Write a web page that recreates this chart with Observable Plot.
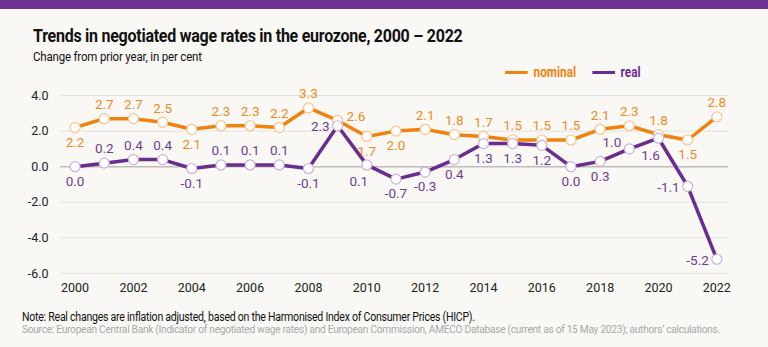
<!DOCTYPE html>
<html>
<head>
<meta charset="utf-8">
<script src="https://cdn.jsdelivr.net/npm/d3@7"></script>
<script src="https://cdn.jsdelivr.net/npm/@observablehq/plot@0.6"></script>
<style>
  html, body { margin: 0; padding: 0; }
  body { width: 768px; height: 347px; background: #f9f8f5; position: relative; overflow: hidden;
         font-family: "Roboto", sans-serif; }
  #bar { position: absolute; left: 0; top: 0; width: 768px; height: 9px; background: #6e3391; }
  .sq { transform-origin: 0 50%; }
  #title { position: absolute; left: 33px; top: 25px; font-size: 18px; font-weight: bold; color: #111; white-space: nowrap; letter-spacing: -0.3px; transform: scaleX(0.89); }
  #subtitle { position: absolute; left: 33px; top: 48px; font-size: 13.5px; color: #111; white-space: nowrap; letter-spacing: -0.2px; transform: scaleX(0.85); }
  #legend { position: absolute; left: 505px; top: 64px; font-size: 14px; font-weight: bold; white-space: nowrap; transform: scaleX(0.84); }
  #legend span.sw { display: inline-block; width: 27px; height: 3.5px; vertical-align: middle; margin-right: 7px; position: relative; top: -1px; }
  #legend span.lab { margin-right: 19px; }
  #chart { position: absolute; left: 0; top: 60px; }
  #note { position: absolute; left: 22px; top: 309px; font-size: 12.5px; color: #111; white-space: nowrap; letter-spacing: -0.3px; transform: scaleX(0.845); }
  #source { position: absolute; left: 22px; top: 323px; font-size: 11px; color: #a8a8a8; white-space: nowrap; letter-spacing: -0.3px; transform: scaleX(0.925); }
</style>
</head>
<body>
<div id="bar"></div>
<div id="title" class="sq">Trends in negotiated wage rates in the eurozone, 2000 – 2022</div>
<div id="subtitle" class="sq">Change from prior year, in per cent</div>
<div id="legend" class="sq"></div>
<div id="chart"></div>
<div id="note" class="sq">Note: Real changes are inflation adjusted, based on the Harmonised Index of Consumer Prices (HICP).</div>
<div id="source" class="sq">Source: European Central Bank (Indicator of negotiated wage rates) and European Commission, AMECO Database (current as of 15 May 2023); authors’ calculations.</div>
<script>
const years = [2000,2001,2002,2003,2004,2005,2006,2007,2008,2009,2010,2011,2012,2013,2014,2015,2016,2017,2018,2019,2020,2021,2022];
const nominal = [2.2,2.7,2.7,2.5,2.1,2.3,2.3,2.2,3.3,2.6,1.7,2.0,2.1,1.8,1.7,1.5,1.5,1.5,2.1,2.3,1.8,1.5,2.8];
const real = [0.0,0.2,0.4,0.4,-0.1,0.1,0.1,0.1,-0.1,2.3,0.1,-0.7,-0.3,0.4,1.3,1.3,1.2,0.0,0.3,1.0,1.6,-1.1,-5.2];
// label placement relative to each point
const nominalPlace = ["bottom","top","top","top","bottom","top","top","top","top","right","bottom","bottom","top","top","top","top","top","top","top","top","top","bottom","top"];
const realPlace = ["bottom","top","top","top","bottom","top","top","top","bottom","left","bottom-left","bottom","bottom","bottom","bottom","bottom","bottom","bottom","bottom","top-left","bottom-left","left","left"];
const yTicks = [4, 2, 0, -2, -4, -6];
const xTicks = [2000,2002,2004,2006,2008,2010,2012,2014,2016,2018,2020,2022];
const seriesNames = ["nominal", "real"];
const colors = {nominal: "#f0820f", real: "#6a2c8e"};
const dotStroke = {nominal: "#f7c48c", real: "#c7b2d8"};
const textColors = {nominal: "#f08a1c", real: "#6e3d91"};

const data = [];
years.forEach((yr, i) => {
  data.push({year: yr, value: nominal[i], series: "nominal", place: nominalPlace[i]});
  data.push({year: yr, value: real[i], series: "real", place: realPlace[i]});
});

const lg = document.getElementById("legend");
seriesNames.forEach(s => {
  lg.insertAdjacentHTML("beforeend",
    `<span class="sw" style="background:${colors[s]}"></span><span class="lab" style="color:${colors[s]}">${s}</span>`);
});

const font = '"Roboto", sans-serif';
const offsets = {
  "top": {dx: 0, dy: -14, textAnchor: "middle"},
  "bottom": {dx: 0, dy: 15, textAnchor: "middle"},
  "left": {dx: -8, dy: 1, textAnchor: "end"},
  "right": {dx: 9, dy: -4, textAnchor: "start"},
  "top-left": {dx: -8, dy: -6, textAnchor: "end"},
  "bottom-left": {dx: -8, dy: 17, textAnchor: "middle"}
};
const textMarks = [];
for (const s of seriesNames) {
  for (const [p, o] of Object.entries(offsets)) {
    textMarks.push(Plot.text(data.filter(d => d.series === s && d.place === p), {
      x: "year", y: "value", text: d => d.value.toFixed(1),
      dx: o.dx, dy: o.dy, textAnchor: o.textAnchor,
      fill: textColors[s], fontSize: 13.5, fontFamily: font
    }));
  }
}

const chart = Plot.plot({
  width: 768,
  height: 245,
  marginLeft: 60,
  marginRight: 40,
  marginTop: 35,
  marginBottom: 32,
  style: {background: "transparent", fontFamily: font, fontSize: "12.5px", color: "#222"},
  x: {domain: [1999.5, 2022.4], ticks: xTicks, tickFormat: d => String(d), tickSize: 0, tickPadding: 10, label: null},
  y: {domain: [-6, 4], ticks: yTicks, tickFormat: d => d.toFixed(1), tickSize: 0, tickPadding: 12, label: null},
  marks: [
    Plot.ruleY(yTicks.filter(t => t !== 0), {stroke: "#e4e2de", strokeWidth: 1}),
    Plot.ruleY([0], {stroke: "#bdbcba", strokeWidth: 1.6}),
    Plot.line(data.filter(d => d.series === "nominal"), {x: "year", y: "value", stroke: colors.nominal, strokeWidth: 3.5}),
    Plot.line(data.filter(d => d.series === "real"), {x: "year", y: "value", stroke: colors.real, strokeWidth: 3.5}),
    Plot.dot(data.filter(d => d.series === "nominal"), {x: "year", y: "value", r: 5, fill: "white", stroke: dotStroke.nominal, strokeWidth: 1.2}),
    Plot.dot(data.filter(d => d.series === "real"), {x: "year", y: "value", r: 5, fill: "white", stroke: dotStroke.real, strokeWidth: 1.2}),
    ...textMarks
  ]
});
document.getElementById("chart").appendChild(chart);
</script>
</body>
</html>
